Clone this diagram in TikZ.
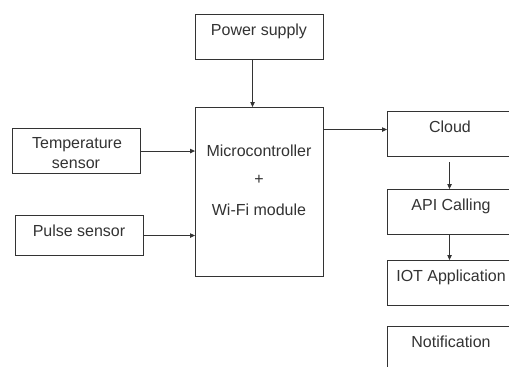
\documentclass[tikz,border=0pt]{standalone}
\usepackage{fontspec}
\setmainfont{Liberation Sans}
\usetikzlibrary{arrows.meta}
\definecolor{ink}{HTML}{333333}
\tikzset{
  box/.style={draw=ink, line width=1.1pt, rectangle, inner sep=0pt, anchor=north west},
  lbl/.style={text=ink, font=\fontsize{16}{19}\selectfont, anchor=base, inner sep=0pt},
  flow/.style={draw=ink, line width=1pt, -{Triangle[length=5pt,width=4.5pt]}}
}
\begin{document}
\begin{tikzpicture}[x=1pt,y=-1pt]
\useasboundingbox (0,0) rectangle (509,367);
\clip (0,0) rectangle (509,367);
\fill[white] (0,0) rectangle (509,367);

% blocks
\node[box, minimum width=128pt, minimum height=45pt] (ps) at (195,14) {};
\node[box, minimum width=128pt, minimum height=169pt] (mc) at (195,107) {};
\node[box, minimum width=128pt, minimum height=45pt] (temp) at (12,128) {};
\node[box, minimum width=128pt, minimum height=40pt] (pulse) at (15,215) {};
\node[box, minimum width=126pt, minimum height=45pt] (cloud) at (387,111) {};
\node[box, minimum width=126pt, minimum height=45pt] (api) at (387,189) {};
\node[box, minimum width=126pt, minimum height=45pt] (iot) at (387,260) {};
\node[box, minimum width=126pt, minimum height=50pt] (notif) at (387,326) {};

% labels
\node[lbl] (pst) at (259,35) {Power supply};
\node[lbl] (tmp1) at (77,148.3) {Temperature};
\node[lbl] (tmp2) at (76,168) {sensor};
\node[lbl] (pls) at (79,236) {Pulse sensor};
\node[lbl] (mc1) at (259,156.7) {Microcontroller};
\node[lbl, anchor=center] (mc2) at (259,180) {+};
\node[lbl] (mc3) at (259,215) {Wi-Fi module};
\node[lbl] (cl) at (450,132) {Cloud};
\node[lbl] (ap) at (451,210) {API Calling};
\node[lbl] (io) at (451,281) {IOT Application};
\node[lbl] (nt) at (451,347.7) {Notification};

% connectors
\draw[flow] ([xshift=-7pt]ps.south) -- ([xshift=-7pt]mc.north);
\draw[flow] (temp.east) -- (temp.east -| mc.west);
\draw[flow] (pulse.east) -- (pulse.east -| mc.west);
\draw[flow] ([yshift=4.5pt]cloud.west -| mc.east) -- ([yshift=4.5pt]cloud.west);
\draw[flow, shorten <=5pt] ([xshift=-1pt]cloud.south) -- ([xshift=-1pt]api.north);
\draw[flow] ([xshift=-1pt]api.south) -- ([xshift=-1pt]iot.north);
\end{tikzpicture}
\end{document}
